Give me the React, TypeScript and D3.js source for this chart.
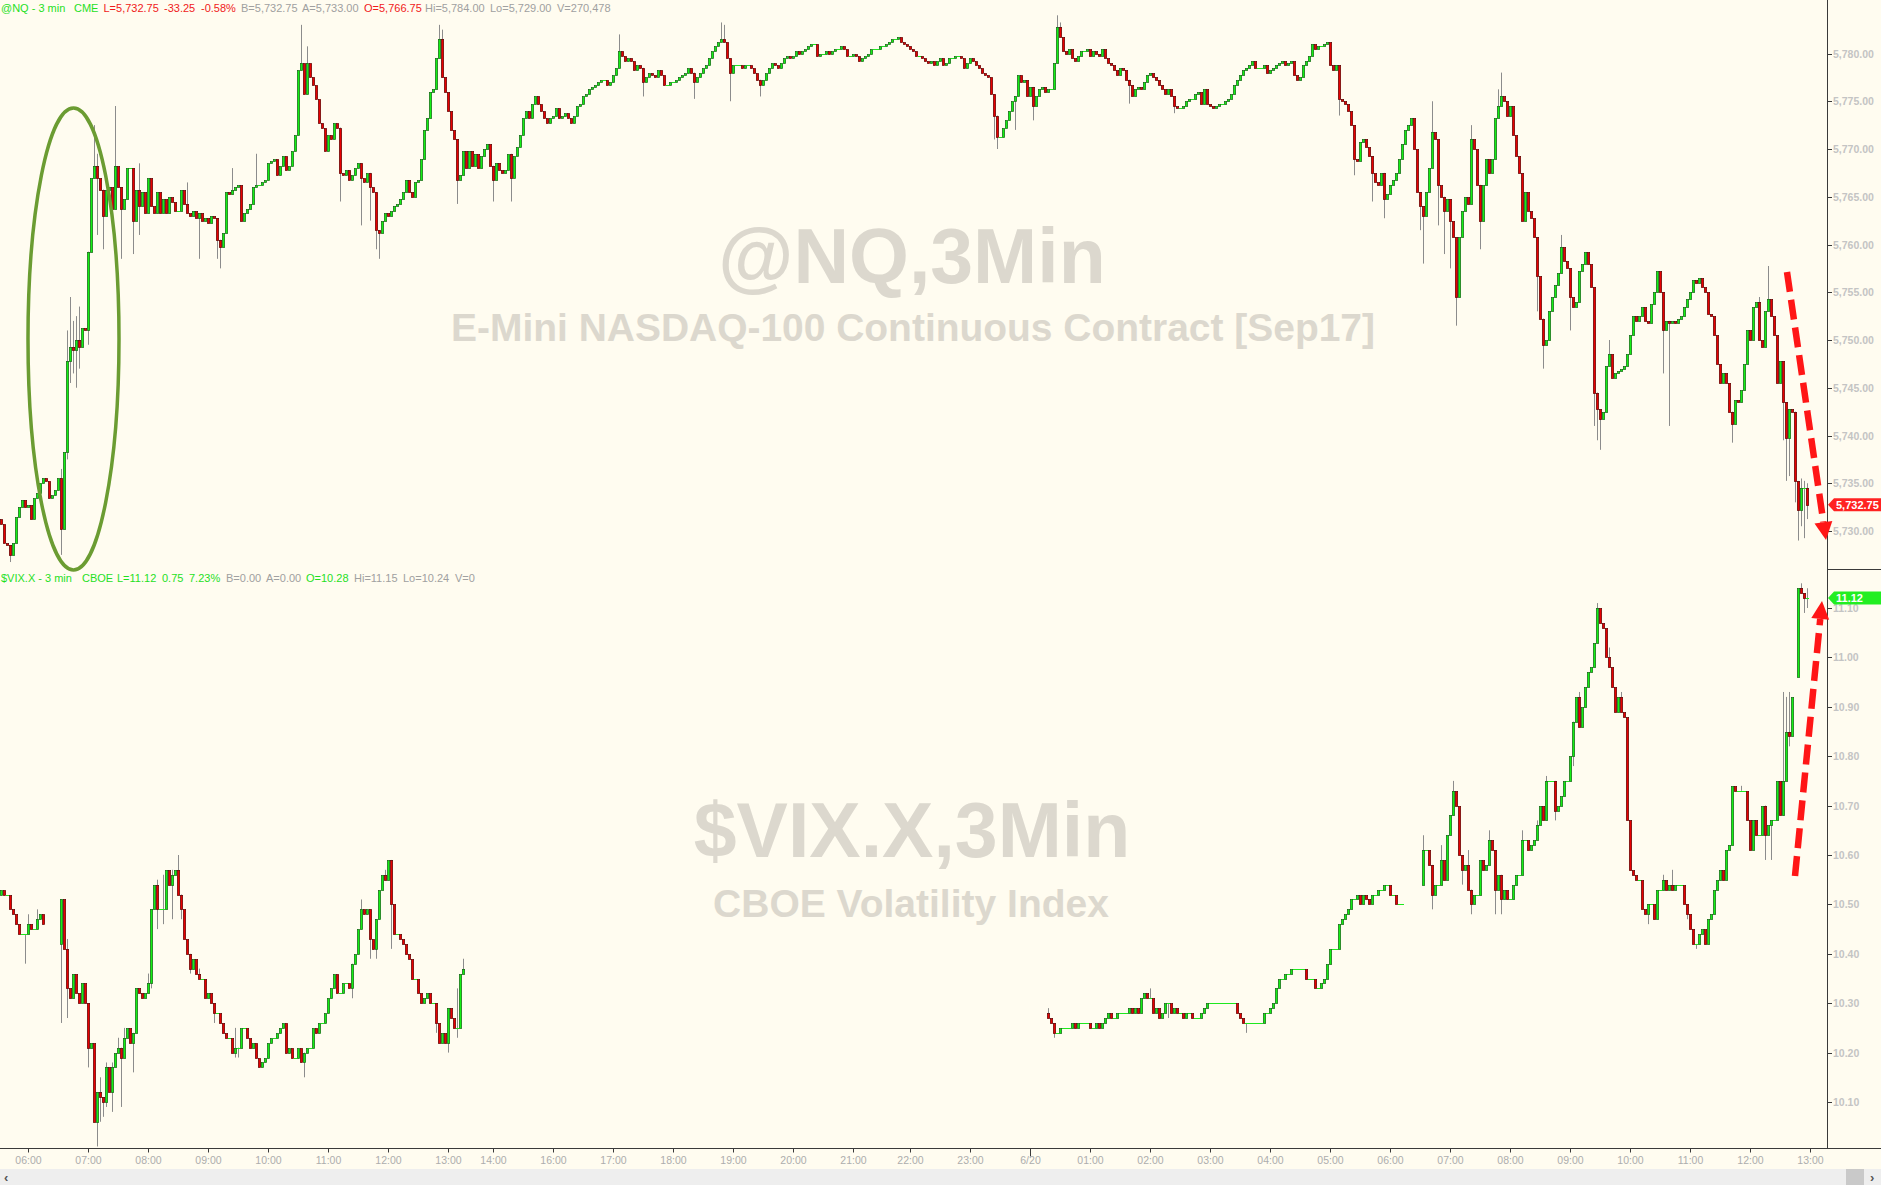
import React from 'react';
import * as d3 from 'd3';

// canvas + layout
const W = 1881;
const H = 1185;
const PLOT_RIGHT = 1827;
const BAR_COUNT = 609;
const FONT = "'Liberation Sans', Arial, Helvetica, sans-serif";

// @NQ 3-min closes, one per bar (open = previous close)
const nqCloses: number[] = [
  5730.75, 5728.75, 5728.5, 5727.5, 5728.75, 5731.5, 5732.5, 5733.25, 5732.5, 5732.75,
  5731.25, 5733.5, 5734, 5735, 5735.5, 5735.25, 5733.5, 5733.75, 5734.25, 5735.5,
  5730.25, 5738.25, 5747.75, 5749.25, 5749, 5750, 5749.25, 5751.25, 5751, 5759.25,
  5767, 5768.25, 5767, 5765.75, 5763, 5765.75, 5766, 5763.75, 5768.25, 5766,
  5763.75, 5764.75, 5768, 5768, 5762.5, 5765.75, 5764, 5765.5, 5763.25, 5767,
  5764, 5763.25, 5765.5, 5763.25, 5764.75, 5763.25, 5765, 5764.5, 5763.5, 5763.5,
  5765.75, 5764.25, 5763.25, 5763, 5763.5, 5762.75, 5763.25, 5762.5, 5762.75, 5762.25,
  5763, 5762.75, 5760.5, 5759.75, 5761.25, 5765.5, 5765.25, 5765.75, 5766, 5766.25,
  5762.5, 5763.25, 5763.75, 5764.25, 5766, 5766.25, 5766.25, 5766.5, 5766.75, 5768.5,
  5768.75, 5769, 5767.25, 5768.25, 5769.25, 5767.75, 5768.25, 5769.75, 5771.5, 5778.25,
  5779, 5775.75, 5779, 5777.5, 5776.75, 5775.25, 5772.75, 5772.25, 5769.75, 5771.5,
  5771, 5772.75, 5772.25, 5767.5, 5767.25, 5767.75, 5766.75, 5767.25, 5768, 5768.5,
  5767, 5766.5, 5767.5, 5766, 5765.5, 5761.5, 5761.25, 5762.5, 5763.25, 5763,
  5763.5, 5764, 5764.25, 5764.75, 5765.5, 5766.75, 5765.5, 5765, 5766.5, 5766.75,
  5769, 5772, 5773.25, 5776, 5776.25, 5779.5, 5781.5, 5777.5, 5776, 5774,
  5772, 5771, 5766.75, 5767.25, 5769.75, 5768, 5769.75, 5768.25, 5769.5, 5768,
  5769.25, 5770, 5770.5, 5768.25, 5766.75, 5768.5, 5767.75, 5767.5, 5767.75, 5769.5,
  5767, 5769.25, 5770.25, 5771.5, 5773.25, 5774, 5773.25, 5774.75, 5775.5, 5774.75,
  5774, 5773.25, 5772.75, 5773.25, 5773.5, 5774.25, 5773.25, 5773.5, 5773.75, 5773.25,
  5772.75, 5773.5, 5774.5, 5774.75, 5775.5, 5775.75, 5776.25, 5776.5, 5776.75, 5777,
  5777.25, 5777.25, 5776.75, 5777, 5777.75, 5778.5, 5780.25, 5779.75, 5779.25, 5779.5,
  5779.25, 5778.25, 5778.75, 5778.5, 5777, 5777.5, 5778, 5777.75, 5777.5, 5778.25,
  5777.75, 5776.75, 5776.75, 5777, 5777, 5777.25, 5777.5, 5777.75, 5778, 5778.5,
  5778, 5777, 5777.5, 5778, 5778.5, 5778.75, 5779.5, 5780.25, 5780.75, 5781.25,
  5781.5, 5781.25, 5779.5, 5778, 5778.75, 5778.75, 5778.75, 5778.5, 5778.75, 5778.75,
  5778.5, 5778, 5777.25, 5776.75, 5777.25, 5778, 5778.5, 5779, 5778.75, 5778.5,
  5779, 5779.5, 5779.75, 5779.5, 5779.75, 5780.25, 5780, 5780.25, 5780.5, 5780.75,
  5781, 5781, 5779.75, 5780, 5780, 5780.25, 5780, 5780.25, 5780.5, 5780.5,
  5780.75, 5780.5, 5779.75, 5779.75, 5780, 5779.75, 5779.25, 5779.5, 5779.75, 5780,
  5780.5, 5780.5, 5780.5, 5780.75, 5780.75, 5781, 5781.25, 5781.5, 5781.5, 5781.75,
  5781.25, 5781, 5780.75, 5780.5, 5780.25, 5779.75, 5779.75, 5779.5, 5779.25, 5779,
  5779.25, 5778.75, 5779.25, 5779.5, 5778.75, 5779, 5779.5, 5779.5, 5779.75, 5779.75,
  5779.5, 5778.5, 5779, 5779.5, 5779.25, 5778.75, 5778.5, 5778, 5777.75, 5777.5,
  5775.75, 5773.5, 5771.25, 5771.25, 5772.25, 5773, 5774, 5775, 5775.5, 5777.75,
  5777, 5777.25, 5775.5, 5776.5, 5774.5, 5775.5, 5776.25, 5776.5, 5776, 5776.25,
  5776.25, 5779, 5782.75, 5781.75, 5780.25, 5780, 5780.5, 5779.5, 5779.25, 5779.75,
  5780.25, 5780.25, 5780.5, 5779.75, 5780.25, 5780, 5779.75, 5780.5, 5779.5, 5779,
  5778.75, 5778.25, 5777.75, 5778.5, 5778.25, 5777.25, 5776.75, 5775.5, 5776.25, 5776.5,
  5776.25, 5777, 5777.75, 5778, 5777.5, 5777.25, 5776.75, 5776.25, 5775.75, 5776.25,
  5775.5, 5774.5, 5774.25, 5774.25, 5774.5, 5775, 5775.25, 5775.25, 5775.75, 5776,
  5774.75, 5776.25, 5774.75, 5774.5, 5774.25, 5774.5, 5774.75, 5774.75, 5775, 5775.25,
  5775.75, 5776.75, 5777.25, 5777.75, 5778.25, 5778.5, 5778.75, 5779.25, 5778.5, 5778.5,
  5778.5, 5778.75, 5778, 5778.25, 5778.5, 5778.75, 5779, 5779.25, 5778.75, 5779,
  5779.25, 5777.75, 5777.25, 5777.5, 5778.75, 5779.25, 5779.75, 5781, 5780.5, 5780.75,
  5780.75, 5781, 5781.25, 5778.75, 5778.25, 5778.75, 5775.25, 5775, 5774.75, 5774,
  5772.5, 5769, 5768.75, 5770.75, 5771, 5770.25, 5769.25, 5767.5, 5766.5, 5766.25,
  5767.5, 5764.75, 5765.25, 5766.25, 5766.75, 5767.5, 5769, 5770.5, 5772, 5772.5,
  5773.25, 5770, 5765.5, 5764, 5763, 5765.5, 5768, 5771.75, 5771, 5766.25,
  5765, 5763.5, 5764.75, 5762.5, 5760.75, 5754.5, 5760.75, 5763.5, 5765, 5764.25,
  5771, 5770, 5766.25, 5762.5, 5766.25, 5769, 5767.5, 5769, 5773.25, 5774.5,
  5775.5, 5775, 5773.5, 5774.5, 5771.5, 5769.25, 5767.5, 5762.5, 5765.5, 5763.5,
  5762.75, 5760.75, 5756.75, 5752.25, 5749.5, 5750, 5753, 5754.5, 5755.75, 5757,
  5759.75, 5758.25, 5757.5, 5754.5, 5753.5, 5754, 5757.25, 5758, 5759.25, 5758,
  5755.5, 5744.5, 5742.75, 5741.75, 5742.5, 5747.25, 5748.5, 5746, 5746.5, 5746.75,
  5747, 5747.25, 5748.5, 5750.5, 5752.5, 5752, 5752.5, 5753.5, 5752, 5751.75,
  5753.75, 5755, 5757.25, 5755, 5751, 5752, 5751.75, 5752, 5751.75, 5752.25,
  5752.5, 5753.5, 5754.25, 5755, 5756.25, 5756, 5756.5, 5755.5, 5755, 5752.75,
  5752.5, 5750.5, 5747.5, 5745.5, 5746.5, 5745.5, 5742.5, 5741.25, 5743.75, 5743.5,
  5744.75, 5747.5, 5751, 5750, 5753.5, 5754, 5750, 5749.25, 5753, 5754.25,
  5752.5, 5750.5, 5745.5, 5747.75, 5743.5, 5739.75, 5742.75, 5742.5, 5735.25, 5732.25,
  5734.5, 5734.5, 5732.75,
];
const nqOpens: [number, number][] = [[0, 5731.25]];
// [bar, high, low] where the wick reaches past the body
const nqWicks: [number, number | null, number | null][] = [
  [3, null, 5726.75], [20, 5736.5, 5727.5], [22, 5751, 5737.5], [23, 5754.5, 5745.5],
  [24, 5752, 5746.5], [25, 5752.5, 5745], [26, 5753.5, 5747], [29, null, 5749.5],
  [31, 5772.5, null], [32, 5769.5, 5761], [34, null, 5759.5], [38, 5774.5, null],
  [40, null, 5758.5], [44, null, 5759], [46, 5768.5, 5761], [62, 5766.5, null],
  [66, null, 5758.5], [72, null, 5758.5], [73, null, 5757.5], [77, 5768, null],
  [85, 5769.5, null], [100, 5783, null], [102, 5780.75, null], [113, 5771, 5764.5],
  [120, null, 5762], [123, null, 5762.5], [125, null, 5759.5], [126, null, 5758.5],
  [146, 5783, null], [147, 5782.5, null], [152, null, 5764.25], [164, null, 5764.5],
  [170, null, 5764.5], [206, 5782, null], [214, null, 5775.5], [231, null, 5775.25],
  [240, 5783.25, null], [241, 5783, null], [243, null, 5775], [253, null, 5775.5],
  [331, null, 5771], [332, null, 5770], [338, null, 5772], [344, null, 5773],
  [352, 5784, null], [353, 5783.25, null], [376, null, 5774.75], [391, null, 5773.75],
  [446, null, 5773.5], [451, null, 5767.25], [457, null, 5764.5], [461, null, 5762.75],
  [473, null, 5761.5], [474, null, 5758], [477, 5775, null], [479, null, 5762],
  [481, null, 5759], [483, null, 5757.5], [485, null, 5751.5], [490, 5772.5, null],
  [493, null, 5759.5], [499, 5776.25, null], [500, 5778, null], [512, null, 5753],
  [514, null, 5747], [520, 5761, null], [523, null, 5751], [531, null, 5741],
  [532, null, 5739.5], [533, null, 5738.5], [536, 5750, null], [554, null, 5746.5],
  [556, null, 5741], [577, null, 5739.25], [578, null, 5742], [586, 5754.5, null],
  [589, 5757.75, null], [594, null, 5739.5], [595, null, 5735.25], [596, null, 5735.75],
  [598, null, 5733], [599, null, 5729], [600, 5735.5, 5730.5], [601, 5735.25, 5729.25],
  [602, 5735, 5731.25],
];
const nqTicks = [5730, 5735, 5740, 5745, 5750, 5755, 5760, 5765, 5770, 5775, 5780];

// $VIX.X 3-min closes, two sessions (null = no print)
const vixLeftStart = 0;
const vixLeft: (number | null)[] = [
  10.53, 10.52, 10.52, 10.49, 10.48, 10.46, 10.44, 10.44, 10.44, 10.46,
  10.45, 10.45, 10.47, 10.48, 10.46, null, null, null, null, null,
  10.51, 10.41, 10.33, 10.31, 10.36, 10.32, 10.30, 10.34, 10.30, 10.21,
  10.22, 10.06, 10.12, 10.11, 10.10, 10.17, 10.12, 10.17, 10.20, 10.21,
  10.19, 10.23, 10.25, 10.22, 10.24, 10.33, 10.32, 10.31, 10.32, 10.34,
  10.49, 10.54, 10.49, 10.49, 10.49, 10.57, 10.54, 10.56, 10.57, 10.52,
  10.49, 10.43, 10.40, 10.37, 10.39, 10.36, 10.35, 10.35, 10.31, 10.32,
  10.30, 10.28, 10.28, 10.26, 10.24, 10.23, 10.23, 10.20, 10.21, 10.21,
  10.25, 10.25, 10.23, 10.21, 10.22, 10.19, 10.17, 10.18, 10.19, 10.22,
  10.23, 10.23, 10.24, 10.25, 10.26, 10.20, 10.21, 10.19, 10.19, 10.21,
  10.18, 10.20, 10.21, 10.21, 10.25, 10.24, 10.26, 10.26, 10.28, 10.31,
  10.33, 10.36, 10.32, 10.32, 10.34, 10.34, 10.33, 10.38, 10.40, 10.45,
  10.49, 10.48, 10.49, 10.43, 10.41, 10.47, 10.53, 10.56, 10.55, 10.59,
  10.50, 10.44, 10.44, 10.43, 10.42, 10.40, 10.39, 10.35, 10.35, 10.32,
  10.30, 10.31, 10.32, 10.30, 10.30, 10.26, 10.22, 10.24, 10.22, 10.29,
  10.27, 10.25, 10.25, 10.36, 10.37,
];
const vixRightStart = 349;
const vixRight: (number | null)[] = [
  10.27, 10.26, 10.24, 10.24, 10.25, 10.25, 10.25, 10.25, 10.26, 10.25,
  10.26, 10.26, 10.26, 10.26, 10.25, 10.25, 10.26, 10.25, 10.26, 10.27,
  10.28, 10.27, 10.27, 10.28, 10.28, 10.28, 10.28, 10.29, 10.28, 10.29,
  10.28, 10.31, 10.32, 10.31, 10.31, 10.28, 10.29, 10.27, 10.28, 10.30,
  10.30, 10.28, 10.29, 10.28, 10.28, 10.27, 10.28, 10.28, 10.27, 10.27,
  10.27, 10.28, 10.29, 10.30, 10.30, 10.30, 10.30, 10.30, 10.30, 10.30,
  10.30, 10.30, 10.30, 10.28, 10.27, 10.26, 10.26, 10.26, 10.26, 10.26,
  10.26, 10.26, 10.28, 10.28, 10.29, 10.30, 10.33, 10.35, 10.35, 10.36,
  10.36, 10.37, 10.37, 10.37, 10.37, 10.37, 10.35, 10.35, 10.35, 10.33,
  10.33, 10.34, 10.35, 10.38, 10.41, 10.41, 10.41, 10.46, 10.47, 10.48,
  10.49, 10.51, 10.51, 10.52, 10.50, 10.52, 10.51, 10.50, 10.52, 10.52,
  10.53, 10.53, 10.54, 10.54, 10.52, 10.52, 10.50, 10.50, 10.50, null,
  null, null, null, null, null, 10.61, 10.61, 10.58, 10.52, 10.54,
  10.54, 10.59, 10.55, 10.64, 10.68, 10.73, 10.70, 10.60, 10.57, 10.58,
  10.53, 10.50, 10.52, 10.52, 10.59, 10.57, 10.58, 10.63, 10.61, 10.53,
  10.56, 10.51, 10.53, 10.51, 10.51, 10.54, 10.56, 10.56, 10.63, 10.63,
  10.61, 10.62, 10.63, 10.66, 10.70, 10.67, 10.75, 10.75, 10.75, 10.69,
  10.70, 10.72, 10.75, 10.75, 10.80, 10.87, 10.92, 10.86, 10.90, 10.94,
  10.97, 10.98, 11.03, 11.10, 11.07, 11.06, 11.00, 10.98, 10.94, 10.89,
  10.92, 10.89, 10.88, 10.67, 10.57, 10.56, 10.55, 10.55, 10.49, 10.48,
  10.50, 10.50, 10.47, 10.53, 10.53, 10.55, 10.53, 10.54, 10.53, 10.54,
  10.54, 10.54, 10.50, 10.48, 10.45, 10.42, 10.42, 10.44, 10.45, 10.42,
  10.47, 10.48, 10.53, 10.55, 10.57, 10.55, 10.61, 10.62, 10.74, 10.73,
  10.73, 10.73, 10.73, 10.67, 10.61, 10.67, 10.64, 10.64, 10.70, 10.64,
  10.66, 10.67, 10.67, 10.75, 10.68, 10.75, 10.85, 10.84, 10.92, null,
  11.14, 11.13, 11.12, 11.12,
];
const vixOpens: [number, number][] = [[0, 10.52], [20, 10.42], [349, 10.28], [474, 10.54], [599, 10.96]];
const vixWicks: [number, number | null, number | null][] = [
  [8, null, 10.38], [9, 10.48, null], [12, 10.49, null], [20, null, 10.26], [22, 10.43, 10.27],
  [29, null, 10.17], [32, null, 10.01], [33, 10.15, 10.06], [34, null, 10.07], [35, 10.18, 10.09],
  [37, 10.18, 10.08], [39, 10.23, null], [40, null, 10.09], [41, 10.25, null], [44, null, 10.16],
  [49, 10.36, null], [50, null, 10.33], [52, 10.55, 10.45], [54, 10.56, 10.46], [57, 10.57, 10.47],
  [59, 10.60, null], [60, null, 10.47], [63, null, 10.36], [66, 10.37, null], [71, null, 10.26],
  [73, 10.28, null], [78, 10.25, 10.19], [79, null, 10.19], [101, null, 10.15], [116, 10.34, null],
  [117, null, 10.31], [120, 10.51, null], [123, null, 10.39], [125, null, 10.39], [128, 10.57, null],
  [130, null, 10.41], [145, null, 10.24], [149, null, 10.20], [150, 10.29, null], [152, 10.33, 10.23],
  [154, 10.39, null],
  [349, 10.29, null], [351, null, 10.23], [383, 10.33, null], [389, null, 10.27], [415, null, 10.24],
  [474, 10.64, null], [477, null, 10.49], [480, 10.62, null], [484, 10.75, null], [487, null, 10.54],
  [489, 10.61, null], [490, null, 10.48], [496, 10.65, null], [498, null, 10.48], [500, null, 10.48],
  [507, 10.65, null], [512, 10.67, null], [515, 10.76, null], [518, null, 10.67], [524, null, 10.78],
  [526, 10.93, null], [531, null, 10.98], [532, 11.11, null], [536, 11.02, null], [540, 10.93, null],
  [549, null, 10.46], [554, 10.56, null], [557, 10.57, null], [562, null, 10.47], [565, null, 10.41],
  [577, null, 10.70], [580, 10.74, null], [583, 10.62, null], [588, null, 10.59], [590, null, 10.59],
  [594, 10.93, null], [595, 10.92, null], [596, 10.93, 10.82], [600, 11.15, null], [601, null, 11.09],
  [602, 11.14, 11.10],
];
const vixTicks = [10.1, 10.2, 10.3, 10.4, 10.5, 10.6, 10.7, 10.8, 10.9, 11.0, 11.1];

// time axis: label + bar index where that hour starts
const timeLabels = ['06:00', '07:00', '08:00', '09:00', '10:00', '11:00', '12:00', '13:00', '14:00', '16:00',
  '17:00', '18:00', '19:00', '20:00', '21:00', '22:00', '23:00', '6/20', '01:00', '02:00', '03:00',
  '04:00', '05:00', '06:00', '07:00', '08:00', '09:00', '10:00', '11:00', '12:00', '13:00'];
const timeBars = [9, 29, 49, 69, 89, 109, 129, 149, 164, 184, 204, 224, 244, 264, 284, 303, 323, 343,
  363, 383, 403, 423, 443, 463, 483, 503, 523, 543, 563, 583, 603];

// header strip texts
const nqHeaderItems = ['@NQ - 3 min', 'CME', 'L=5,732.75', '-33.25', '-0.58%', 'B=5,732.75', 'A=5,733.00',
  'O=5,766.75', 'Hi=5,784.00', 'Lo=5,729.00', 'V=270,478'];
const vixHeaderItems = ['$VIX.X - 3 min', 'CBOE', 'L=11.12', '0.75', '7.23%', 'B=0.00', 'A=0.00',
  'O=10.28', 'Hi=11.15', 'Lo=10.24', 'V=0'];
const nqLast = 5732.75;
const vixLast = 11.12;

// layout of the header pieces
const GREEN_TXT = '#1fe01f';
const RED_TXT = '#f01a1a';
const GREY_TXT = '#a0a0a0';
const nqHeaderX = [1, 74, 103.5, 164, 201, 241, 302, 364, 425, 490, 557];
const nqHeaderCol = [GREEN_TXT, GREEN_TXT, RED_TXT, RED_TXT, RED_TXT, GREY_TXT, GREY_TXT, RED_TXT, GREY_TXT, GREY_TXT, GREY_TXT];
const vixHeaderX = [1, 82, 117, 162, 189, 226, 266, 306, 354, 403, 455];
const vixHeaderCol = [GREEN_TXT, GREEN_TXT, GREEN_TXT, GREEN_TXT, GREEN_TXT, GREY_TXT, GREY_TXT, GREEN_TXT, GREY_TXT, GREY_TXT, GREY_TXT];

const x = d3.scaleLinear().domain([0, BAR_COUNT]).range([0, PLOT_RIGHT]);
const yNq = d3.scaleLinear().domain([5730, 5780]).range([531, 53.5]);
const yVix = d3.scaleLinear().domain([10.1, 11.1]).range([1102, 608]);

type Candle = { i: number; o: number; c: number; h: number; l: number };

function buildCandles(
  closes: (number | null)[],
  start: number,
  opens: [number, number][],
  wicks: [number, number | null, number | null][],
): Candle[] {
  const openMap = new Map(opens);
  const wickMap = new Map(wicks.map(w => [w[0], w] as const));
  const out: Candle[] = [];
  let prev: number | null = null;
  closes.forEach((c, k) => {
    const i = start + k;
    if (c == null) {
      prev = null;
      return;
    }
    const o = openMap.get(i) ?? prev ?? c;
    const w = wickMap.get(i);
    const h = Math.max(o, c, w && w[1] != null ? w[1] : -Infinity);
    const l = Math.min(o, c, w && w[2] != null ? w[2] : Infinity);
    out.push({ i, o, c, h, l });
    prev = c;
  });
  return out;
}

const nqCandles = buildCandles(nqCloses, 0, nqOpens, nqWicks);
const vixCandles = [
  ...buildCandles(vixLeft, vixLeftStart, vixOpens, vixWicks),
  ...buildCandles(vixRight, vixRightStart, vixOpens, vixWicks),
];

const Candles: React.FC<{ data: Candle[]; y: d3.ScaleLinear<number, number> }> = ({ data, y }) => (
  <g>
    {data.map(d => {
      const left = x(d.i);
      const cx = x(d.i + 0.5);
      const hiBody = Math.max(d.o, d.c);
      const loBody = Math.min(d.o, d.c);
      const hasWick = d.h > hiBody + 1e-9 || d.l < loBody - 1e-9;
      const top = Math.round(y(hiBody)) + 0.5;
      const bot = Math.round(y(loBody)) + 0.5;
      const up = d.c >= d.o;
      return (
        <g key={d.i}>
          {hasWick && (
            <line x1={cx} x2={cx} y1={y(d.h)} y2={y(d.l)} stroke="#8c8c8c" strokeWidth={1} />
          )}
          {Math.abs(d.o - d.c) < 1e-9 ? (
            <line x1={left} x2={left + 3} y1={top} y2={top} stroke="#1ee81e" strokeWidth={1} />
          ) : (
            <rect
              x={left + 0.35}
              y={top}
              width={2.3}
              height={Math.max(1, bot - top)}
              fill={up ? '#14f014' : '#e80000'}
              stroke={up ? '#146314' : '#5c0000'}
              strokeWidth={0.7}
            />
          )}
        </g>
      );
    })}
  </g>
);

// dashed arrow with a triangular head
function DashedArrow({ tail, tip }: { tail: [number, number]; tip: [number, number] }) {
  const dx = tip[0] - tail[0];
  const dy = tip[1] - tail[1];
  const len = Math.hypot(dx, dy);
  const ux = dx / len;
  const uy = dy / len;
  const headLen = 18;
  const half = 9;
  const bx = tip[0] - ux * headLen;
  const by = tip[1] - uy * headLen;
  const px = -uy * half;
  const py = ux * half;
  return (
    <g>
      <line x1={tail[0]} y1={tail[1]} x2={bx} y2={by} stroke="#ff1616" strokeWidth={6.5} strokeDasharray="20 8" />
      <polygon points={`${tip[0]},${tip[1]} ${bx + px},${by + py} ${bx - px},${by - py}`} fill="#ff1616" />
    </g>
  );
}

function PriceTag({ y, text, color }: { y: number; text: string; color: string }) {
  const x0 = PLOT_RIGHT + 1;
  return (
    <g>
      <polygon points={`${x0},${y} ${x0 + 6},${y - 6.5} ${W},${y - 6.5} ${W},${y + 6.5} ${x0 + 6},${y + 6.5}`} fill={color} />
      <text x={x0 + 8} y={y + 4} fill="#ffffff" fontSize={11} fontWeight="bold" fontFamily={FONT}>{text}</text>
    </g>
  );
}

const fmtNq = d3.format(',.2f');
const fmtVix = d3.format('.2f');

export default function App() {
  const axisY = 1148.5;
  return (
    <div style={{ position: 'absolute', left: 0, top: 0 }}>
      <svg width={W} height={H} style={{ display: 'block' }} fontFamily={FONT}>
        <rect x={0} y={0} width={W} height={H} fill="#fffcf0" />

        {/* watermarks */}
        <g fill="#dcd8ce" fontWeight="bold" textAnchor="middle">
          <text x={912} y={283} fontSize={77}>@NQ,3Min</text>
          <text x={913} y={341} fontSize={39} textLength={924} lengthAdjust="spacingAndGlyphs">
            E-Mini NASDAQ-100 Continuous Contract [Sep17]
          </text>
          <text x={912} y={857} fontSize={77}>$VIX.X,3Min</text>
          <text x={911} y={917} fontSize={39}>CBOE Volatility Index</text>
        </g>

        {/* headers */}
        <g fontSize={11}>
          {nqHeaderItems.map((t, k) => (
            <text key={'nh' + k} x={nqHeaderX[k]} y={12} fill={nqHeaderCol[k]}>{t}</text>
          ))}
          {vixHeaderItems.map((t, k) => (
            <text key={'vh' + k} x={vixHeaderX[k]} y={582} fill={vixHeaderCol[k]}>{t}</text>
          ))}
        </g>

        <Candles data={nqCandles} y={yNq} />
        <Candles data={vixCandles} y={yVix} />

        {/* right axis */}
        <line x1={PLOT_RIGHT + 0.5} x2={PLOT_RIGHT + 0.5} y1={0} y2={axisY} stroke="#3a3a3a" strokeWidth={1} />
        <line x1={PLOT_RIGHT} x2={W} y1={569.5} y2={569.5} stroke="#3a3a3a" strokeWidth={1} />
        <g fontSize={10.5} fontWeight="bold" fill="#c4c4c4">
          {nqTicks.map(v => (
            <g key={'nt' + v}>
              <line x1={PLOT_RIGHT} x2={PLOT_RIGHT + 5} y1={Math.round(yNq(v)) + 0.5} y2={Math.round(yNq(v)) + 0.5} stroke="#3a3a3a" />
              <text x={PLOT_RIGHT + 6} y={yNq(v) + 4}>{fmtNq(v)}</text>
            </g>
          ))}
          {vixTicks.map(v => (
            <g key={'vt' + v}>
              <line x1={PLOT_RIGHT} x2={PLOT_RIGHT + 5} y1={Math.round(yVix(v)) + 0.5} y2={Math.round(yVix(v)) + 0.5} stroke="#3a3a3a" />
              <text x={PLOT_RIGHT + 6} y={yVix(v) + 4}>{fmtVix(v)}</text>
            </g>
          ))}
        </g>

        {/* bottom time axis */}
        <line x1={0} x2={W} y1={axisY} y2={axisY} stroke="#3a3a3a" strokeWidth={1} />
        <g fontSize={10.5} fill="#adadad" textAnchor="middle">
          {timeLabels.map((t, k) => {
            const tx = Math.floor(x(timeBars[k] + 0.5)) + 0.5;
            return (
              <g key={'tt' + k}>
                <line x1={tx} x2={tx} y1={axisY} y2={axisY + (t === '6/20' ? 8 : 4)} stroke="#3a3a3a" />
                <text x={tx} y={1164}>{t}</text>
              </g>
            );
          })}
        </g>

        {/* scroll bar */}
        <rect x={0} y={1169} width={W} height={16} fill="#eeeeee" />
        <rect x={1846} y={1169} width={18} height={16} fill="#c9c9c9" />
        <text x={4} y={1182} fontSize={13} fontWeight="bold" fill="#555">‹</text>
        <text x={1870} y={1182} fontSize={13} fontWeight="bold" fill="#555">›</text>

        {/* annotations */}
        <ellipse cx={73.5} cy={339} rx={45.5} ry={231} fill="none" stroke="#6b9c32" strokeWidth={3.5} />
        <DashedArrow tail={[1787, 272]} tip={[1826, 540]} />
        <DashedArrow tail={[1795, 876]} tip={[1822, 601]} />

        <PriceTag y={yNq(nqLast)} text={fmtNq(nqLast)} color="#ff2222" />
        <PriceTag y={yVix(vixLast)} text={fmtVix(vixLast)} color="#22ee22" />
      </svg>
    </div>
  );
}
